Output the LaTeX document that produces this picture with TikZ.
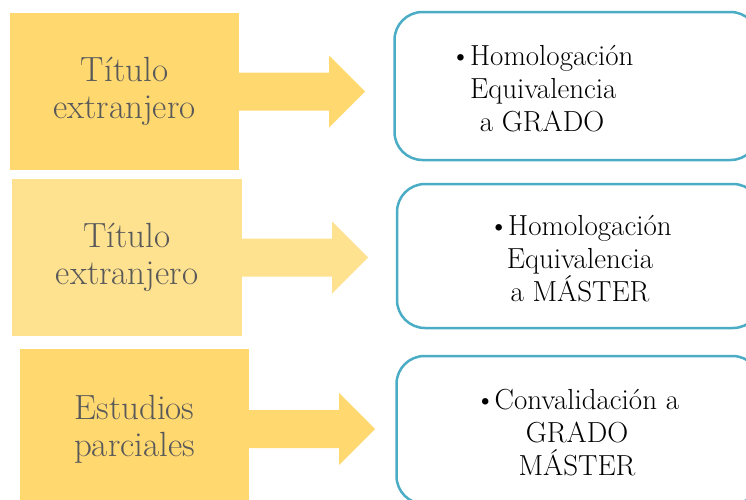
\documentclass[tikz,border=0pt]{standalone}
\usetikzlibrary{positioning}
\definecolor{amarillo}{RGB}{255,217,112}
\definecolor{amarilloclaro}{RGB}{255,226,143}
\definecolor{turquesa}{RGB}{75,172,198}
\definecolor{grisoscuro}{RGB}{89,89,89}
\tikzset{
  caja/.style={minimum width=229pt, minimum height=157pt, inner sep=0pt, text=grisoscuro, align=center, font=\fontsize{35}{37}\selectfont},
  marco/.style={draw=turquesa, line width=2.5pt, rounded corners=28pt, minimum width=364pt, inner sep=0pt, fill=white},
  texto/.style={inner sep=0pt, font=\fontsize{29}{33}\selectfont}
}
\begin{document}
\begin{tikzpicture}[x=1pt, y=-1pt]
		\useasboundingbox (0,0) rectangle (746,499);
		\clip (0,0) rectangle (746,499);
		\node[caja, fill=amarillo] (titulo1) at (124.5,91.5) {Título\\extranjero};
		\node[caja, fill=amarilloclaro, minimum width=230pt] (titulo2) at (127,257.5) {Título\\extranjero};
		\node[caja, fill=amarillo, minimum height=160pt] (estudios) at (134.5,429) {Estudios\\parciales};
		\foreach \n/\c in {titulo1/amarillo, titulo2/amarilloclaro, estudios/amarillo}
			\fill[\c] (\n.east) ++(-2,-19) -- ++(92,0) -- ++(0,-17) -- ++(36,36) -- ++(-36,36) -- ++(0,-17) -- ++(-92,0) -- cycle;
		\node[marco, minimum height=148pt] (grado) at (576.5,86) {};
		\node[marco, minimum height=144pt] (master) at (579,256) {};
		\node[marco, minimum height=148pt] (parcial) at (578.5,430) {};
		\node[texto, align=left, anchor=west] (txtgrado) at (450,89) {\textbullet\kern-1pt Homologación\\\hphantom{\textbullet\kern-1pt}Equivalencia\\\hphantom{\textbullet}\ a GRADO};
		\node[texto, align=center] (txtmaster) at (580,259) {\textbullet\kern-1pt Homologación\\Equivalencia\\a MÁSTER};
		\node[texto, align=center] (txtparcial) at (577,433) {\textbullet\kern-1pt Convalidación a\\GRADO\\MÁSTER};
	\end{tikzpicture}
\end{document}
